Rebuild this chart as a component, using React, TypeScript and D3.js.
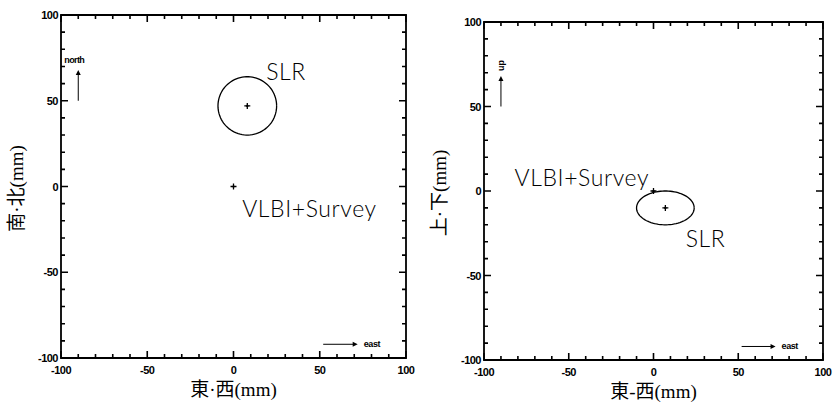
import * as d3 from "d3";

// one entry per panel: [horizontal, vertical]
const yAxisLabels = ["南·北(mm)", "上·下(mm)"];
const xAxisLabels = ["東·西(mm)", "東-西(mm)"];
const dirLabels = ["north", "up"];

const majorTicks = [-100, -50, 0, 50, 100];
const minorTicks = d3.range(-100, 101, 10);

// SLR solution (mm) and its error ellipse semi-axes
const slrEast = [8, 7];
const slrOther = [47, -10];
const slrSigmaEast = [17, 17];
const slrSigmaOther = [17, 10];

// VLBI+Survey reference point
const vlbiEast = [0, 0];
const vlbiOther = [0, 0];

// label anchors (mm)
const slrLabelAt: [number, number][] = [[19, 62], [19, -33]];
const vlbiLabelAt: [number, number][] = [[5, -18], [-82, 3]];

// orientation arrows (mm)
const upArrowX = -90;
const upArrowFrom = 50;
const upArrowTo = 68;
const eastArrowY = -92;
const eastArrowFrom = 52;
const eastArrowTo = 72;

const boxes = [
  { x0: 61, x1: 406, y0: 15, y1: 358 },
  { x0: 484, x1: 823, y0: 22, y1: 360 },
];

const tickFont = "'Liberation Sans', Arial, sans-serif";
const textFont = "Lato, 'Open Sans', sans-serif";
const serifFont = "'Liberation Serif', 'Noto Sans CJK JP', serif";

function Marker({ x, y }: { x: number; y: number }) {
  return (
    <g>
      <path d={`M${x - 3},${y}L${x + 3},${y}M${x},${y - 3}L${x},${y + 3}`} stroke="#000" strokeWidth={1.3} />
      <path d={`M${x - 1.6},${y}L${x},${y - 1.6}L${x + 1.6},${y}L${x},${y + 1.6}Z`} fill="#000" />
    </g>
  );
}

function Panel({ i }: { i: number }) {
  const b = boxes[i];
  const x = d3.scaleLinear().domain([-100, 100]).range([b.x0, b.x1]);
  const y = d3.scaleLinear().domain([-100, 100]).range([b.y1, b.y0]);
  const major = 7;
  const minor = 4;

  // all tick marks, pointing inward on the four sides
  const tickPath = minorTicks
    .map((t) => {
      const len = majorTicks.includes(t) ? major : minor;
      const px = x(t);
      const py = y(t);
      return (
        `M${px},${b.y1}v${-len}` +
        `M${px},${b.y0}v${len}` +
        `M${b.x0},${py}h${len}` +
        `M${b.x1},${py}h${-len}`
      );
    })
    .join("");

  const ellipse = d3.range(0, 361, 4).map((a) => {
    const t = (a * Math.PI) / 180;
    return [x(slrEast[i] + slrSigmaEast[i] * Math.cos(t)), y(slrOther[i] + slrSigmaOther[i] * Math.sin(t))] as [number, number];
  });
  const line = d3.line();

  const upX = x(upArrowX);
  const upTop = y(upArrowTo);
  const eY = y(eastArrowY);
  const eEnd = x(eastArrowTo);

  return (
    <g>
      <path d={`M${b.x0},${b.y0}H${b.x1}V${b.y1}H${b.x0}Z`} fill="none" stroke="#000" strokeWidth={1.8} />
      <path d={tickPath} fill="none" stroke="#000" strokeWidth={1.6} />
      {majorTicks.map((t) => (
        <g key={"l" + t} fontFamily={tickFont} fontWeight="bold" fontSize={11} fill="#000">
          <text x={x(t)} y={b.y1 + 16} textAnchor="middle" letterSpacing={-0.5}>{t}</text>
          <text x={b.x0 - 3} y={y(t) + 4} textAnchor="end" letterSpacing={-0.5}>{t}</text>
        </g>
      ))}
      <text x={(b.x0 + b.x1) / 2} y={b.y1 + 38} textAnchor="middle" fontFamily={serifFont} fontSize={19}>{xAxisLabels[i]}</text>
      <text transform={`translate(${b.x0 - 38},${(b.y0 + b.y1) / 2 + 2}) rotate(-90)`} textAnchor="middle" fontFamily={serifFont} fontSize={19}>{yAxisLabels[i]}</text>

      <path d={line(ellipse) ?? ""} fill="none" stroke="#000" strokeWidth={1.3} />
      <Marker x={x(slrEast[i])} y={y(slrOther[i])} />
      <Marker x={x(vlbiEast[i])} y={y(vlbiOther[i])} />
      <text x={x(slrLabelAt[i][0])} y={y(slrLabelAt[i][1])} fontFamily={textFont} fontWeight={300} fontSize={23} letterSpacing={0.5}>SLR</text>
      <text x={x(vlbiLabelAt[i][0])} y={y(vlbiLabelAt[i][1])} fontFamily={textFont} fontWeight={300} fontSize={23} letterSpacing={0.6}>VLBI+Survey</text>

      <line x1={upX} x2={upX} y1={y(upArrowFrom)} y2={upTop + 3} stroke="#000" strokeWidth={1} />
      <path d={`M${upX},${upTop}L${upX - 2.5},${upTop + 5}L${upX + 2.5},${upTop + 5}Z`} fill="#000" />
      {i === 0 ? (
        <text x={upX - 14} y={upTop - 7} fontFamily={tickFont} fontWeight="bold" fontSize={9} letterSpacing={-0.6}>{dirLabels[i]}</text>
      ) : (
        <text transform={`translate(${upX + 3},${upTop - 5}) rotate(-90)`} fontFamily={tickFont} fontWeight="bold" fontSize={9}>{dirLabels[i]}</text>
      )}
      <line x1={x(eastArrowFrom)} x2={eEnd - 3} y1={eY} y2={eY} stroke="#000" strokeWidth={1} />
      <path d={`M${eEnd},${eY}L${eEnd - 5},${eY - 2.5}L${eEnd - 5},${eY + 2.5}Z`} fill="#000" />
      <text x={eEnd + 6} y={eY + 3} fontFamily={tickFont} fontWeight="bold" fontSize={9} letterSpacing={-0.4}>east</text>
    </g>
  );
}

export default function App() {
  return (
    <svg width={836} height={410} style={{ position: "absolute", left: 0, top: 0, background: "#fff" }}>
      <Panel i={0} />
      <Panel i={1} />
    </svg>
  );
}
